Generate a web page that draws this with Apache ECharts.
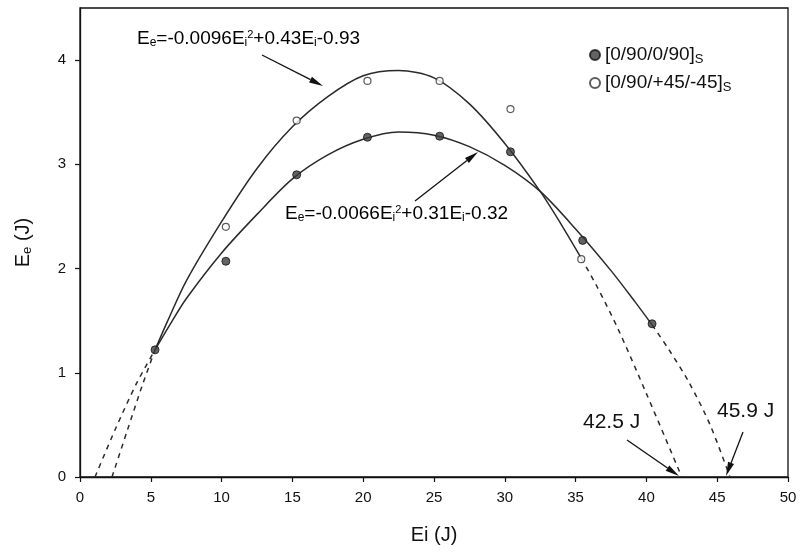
<!DOCTYPE html>
<html>
<head>
<meta charset="utf-8">
<script src="https://cdn.jsdelivr.net/npm/echarts@6/dist/echarts.min.js"></script>
<style>html,body{margin:0;padding:0;background:#fff;}#c{width:800px;height:554px;}</style>
</head>
<body>
<div id="c"></div>
<script>
// ---- data ----
var xTicks = [0, 5, 10, 15, 20, 25, 30, 35, 40, 45, 50];
var yTicks = [0, 1, 2, 3, 4];

// measured points
var crossPlyPts = [[5.3,1.22],[10.3,2.07],[15.3,2.90],[20.3,3.26],[25.4,3.27],[30.4,3.12],[35.5,2.27],[40.4,1.47]];
var anglePlyPts = [[10.3,2.40],[15.3,3.42],[20.3,3.80],[25.4,3.80],[30.4,3.53],[35.4,2.09]];

// fitted curve for [0/90/+45/-45]s (upper)
var angleFitLeft  = [[2.26,0],[3.3,0.43],[4.4,0.88],[5.3,1.22]];
var angleFitMid   = [[5.3,1.22],[6.2,1.50],[7.5,1.88],[10,2.45],[12.5,2.96],[15,3.36],[17.5,3.65],[20,3.85],[22.5,3.90],[25,3.83],[27.5,3.58],[30,3.20],[32.5,2.74],[34,2.42],[35.4,2.10]];
var angleFitRight = [[35.4,2.10],[36.5,1.83],[38,1.42],[40,0.80],[42.5,0]];

// fitted curve for [0/90/0/90]s (lower)
var crossFitLeft  = [[1.06,0],[2.5,0.46],[4,0.90],[5.3,1.22]];
var crossFitMid   = [[5.3,1.22],[6.3,1.45],[7.5,1.71],[10,2.15],[12.5,2.52],[15,2.86],[17.5,3.09],[20,3.24],[22.5,3.31],[25,3.28],[27.5,3.17],[30,2.99],[32.5,2.74],[35,2.38],[37.5,1.98],[39.2,1.68],[40.4,1.46]];
var crossFitRight = [[40.4,1.46],[41.6,1.22],[43,0.91],[44.5,0.50],[45.9,0]];

var seriesNames = ['[0/90/0/90]s', '[0/90/+45/-45]s'];

var FONT = '"Liberation Sans", Arial, sans-serif';
var chart = echarts.init(document.getElementById('c'), null, {renderer: 'canvas'});

function curve(data, dashed) {
  return {
    type: 'line', data: data, smooth: 0.3, symbol: 'none', silent: true,
    lineStyle: {color: '#2a2a2a', width: 1.5, type: dashed ? [5, 5] : 'solid'},
    z: 2
  };
}

var subStyle = {fontSize: 12, fontFamily: FONT, color: '#111', padding: [8, 0, 0, 0]};
var supStyle = {fontSize: 11, fontFamily: FONT, color: '#111', padding: [0, 0, 8, 0]};
var tStyle = {fontSize: 19, fontFamily: FONT, color: '#111'};

function arrow(x1, y1, x2, y2) {
  var dx = x2 - x1, dy = y2 - y1, L = Math.sqrt(dx*dx + dy*dy);
  var ux = dx / L, uy = dy / L, hl = 14, hw = 3.2;
  var bx = x2 - ux*hl, by = y2 - uy*hl;
  return [
    {type: 'line', shape: {x1: x1, y1: y1, x2: bx, y2: by}, style: {stroke: '#111', lineWidth: 1.3}, z: 10},
    {type: 'polygon', shape: {points: [[x2, y2], [bx - uy*hw, by + ux*hw], [bx + uy*hw, by - ux*hw]]}, style: {fill: '#111'}, z: 10}
  ];
}

var graphics = [].concat(
  arrow(262, 55, 323, 86),
  arrow(415, 201, 478, 152),
  arrow(627, 440, 679, 476),
  arrow(743, 432, 726, 476),
  [
    {type: 'text', left: 137, top: 29, z: 10, style: {
      text: '{t|E}{sub|e}{t|=-0.0096E}{sub|i}{sup|2}{t|+0.43E}{sub|i}{t|-0.93}',
      rich: {t: tStyle, sub: subStyle, sup: supStyle}}},
    {type: 'text', left: 285, top: 204, z: 10, style: {
      text: '{t|E}{sub|e}{t|=-0.0066E}{sub|i}{sup|2}{t|+0.31E}{sub|i}{t|-0.32}',
      rich: {t: tStyle, sub: subStyle, sup: supStyle}}},
    {type: 'text', left: 583, top: 412, z: 10, style: {text: '42.5 J', font: '21px ' + FONT, fill: '#111'}},
    {type: 'text', left: 717, top: 401, z: 10, style: {text: '45.9 J', font: '21px ' + FONT, fill: '#111'}}
  ]
);

var option = {
  backgroundColor: '#fff',
  animation: false,
  grid: {left: 80, right: 12, top: 8, bottom: 77, show: true, borderColor: '#111', borderWidth: 1.3, backgroundColor: '#fff'},
  legend: {
    data: seriesNames, orient: 'vertical', left: 584, top: 39, itemWidth: 10, itemHeight: 10, itemGap: 6,
    icon: 'circle',
    formatter: function (n) { return '{a|' + n.slice(0, -1) + '}{s|S}'; },
    textStyle: {fontFamily: FONT, fontSize: 19, color: '#111', lineHeight: 22,
      rich: {a: {fontSize: 19, fontFamily: FONT, color: '#111'}, s: {fontSize: 13, fontFamily: FONT, color: '#111', padding: [8, 0, 0, 0]}}}
  },
  xAxis: {
    type: 'value', min: 0, max: 50, interval: 5,
    name: 'Ei (J)', nameLocation: 'middle', nameGap: 48,
    nameTextStyle: {fontFamily: FONT, fontSize: 20, color: '#111'},
    axisLine: {lineStyle: {color: '#111', width: 1.3}},
    axisTick: {length: 5, lineStyle: {color: '#111', width: 1.2}, customValues: xTicks},
    axisLabel: {fontFamily: FONT, fontSize: 15, color: '#111', margin: 13, customValues: xTicks},
    splitLine: {show: false}
  },
  yAxis: {
    type: 'value', min: 0, max: 4.5, interval: 1,
    name: '{e|E}{s|e}{e| (J)}', nameLocation: 'middle', nameGap: 46, nameRotate: 90,
    nameTextStyle: {fontFamily: FONT, fontSize: 20, color: '#111',
      rich: {e: {fontSize: 20, fontFamily: FONT, color: '#111'}, s: {fontSize: 13, fontFamily: FONT, color: '#111', padding: [8, 0, 0, 0]}}},
    axisLine: {lineStyle: {color: '#111', width: 1.3}},
    axisTick: {length: 5, lineStyle: {color: '#111', width: 1.2}, customValues: yTicks},
    axisLabel: {fontFamily: FONT, fontSize: 15, color: '#111', margin: 14, customValues: yTicks},
    splitLine: {show: false}
  },
  series: [
    curve(angleFitLeft, true), curve(angleFitMid, false), curve(angleFitRight, true),
    curve(crossFitLeft, true), curve(crossFitMid, false), curve(crossFitRight, true),
    {name: seriesNames[0], type: 'scatter', data: crossPlyPts, symbol: 'circle', symbolSize: 8,
      itemStyle: {color: '#3c3c3c', borderColor: '#111', borderWidth: 1}, z: 5},
    {name: seriesNames[1], type: 'scatter', data: anglePlyPts, symbol: 'circle', symbolSize: 7,
      itemStyle: {color: '#fff', borderColor: '#333', borderWidth: 1.2}, z: 5}
  ],
  graphic: graphics
};
chart.setOption(option);
</script>
</body>
</html>
